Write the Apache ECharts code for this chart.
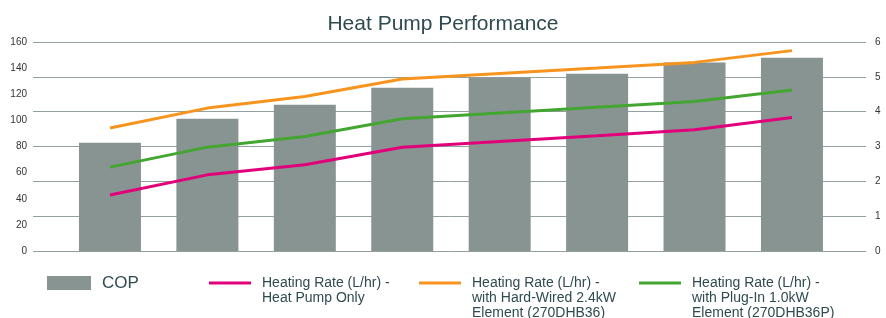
<!DOCTYPE html>
<html><head><meta charset="utf-8">
<script src="https://cdn.jsdelivr.net/npm/echarts@6/dist/echarts.min.js"></script>
<style>html,body{margin:0;padding:0;background:#fff}#c{width:886px;height:318px}</style>
</head><body><div id="c"></div>
<script>
// Data
const categories = ['1','2','3','4','5','6','7','8'];
const cop = [3.11, 3.80, 4.20, 4.69, 4.98, 5.09, 5.41, 5.55];
const heatPumpOnly = [42.9, 58.3, 66.0, 79.4, 83.9, 88.3, 92.8, 102.2];
const hardWired = [94.1, 109.4, 118.3, 131.7, 135.9, 140.1, 144.4, 153.4];
const plugIn = [64.2, 79.5, 87.7, 101.2, 105.7, 110.1, 114.5, 123.2];
const leftTicks = [0, 20, 40, 60, 80, 100, 120, 140, 160];
const rightTicks = [0, 1, 2, 3, 4, 5, 6];
const names = {
  cop: 'COP',
  hp: 'Heating Rate (L/hr) -\nHeat Pump Only',
  hw: 'Heating Rate (L/hr) -\nwith Hard-Wired 2.4kW\nElement (270DHB36)',
  pi: 'Heating Rate (L/hr) -\nwith Plug-In 1.0kW\nElement (270DHB36P)'
};

const toXY = arr => arr.map((v, i) => [categories.indexOf(categories[i]), v]);
const font = 'Liberation Sans, Arial, Helvetica, sans-serif';
const textCol = '#2f4b50';
const LH = 15;

function legendFor(name, left, iconCenterY, isBar) {
  const n = name.split('\n').length;
  const blockH = isBar ? 17 : (2 * n - 1) * LH;
  return {
    data: [name],
    left: left,
    top: iconCenterY - blockH / 2,
    padding: 0,
    itemWidth: isBar ? 44 : 42,
    itemHeight: isBar ? 14 : 3,
    icon: 'rect',
    selectedMode: false,
    formatter: nm => isBar ? nm : '\n'.repeat(n - 1) + nm,
    textStyle: {
      fontFamily: font,
      fontSize: isBar ? 17 : 14,
      lineHeight: isBar ? 17 : LH,
      color: textCol,
      padding: [0, 0, 0, 6]
    }
  };
}

const chart = echarts.init(document.getElementById('c'), null, {renderer: 'canvas'});
chart.setOption({
  animation: false,
  backgroundColor: '#fff',
  title: {
    text: 'Heat Pump Performance',
    left: 'center',
    top: 9,
    textStyle: {fontFamily: font, fontSize: 21, fontWeight: 'normal', color: textCol}
  },
  legend: [
    legendFor(names.cop, 47, 283, true),
    legendFor(names.hp, 209, 283, false),
    legendFor(names.hw, 419, 283, false),
    legendFor(names.pi, 639, 283, false)
  ],
  grid: {left: 33, right: 20, top: 42, bottom: 67, containLabel: false},
  xAxis: {
    type: 'value', min: -0.79, max: 7.76, show: false
  },
  yAxis: [
    {
      type: 'value', min: leftTicks[0], max: leftTicks[leftTicks.length - 1], interval: 20,
      position: 'left',
      axisLine: {show: false}, axisTick: {show: false}, splitLine: {show: false},
      axisLabel: {fontFamily: font, fontSize: 10, color: '#333', margin: 6}
    },
    {
      type: 'value', min: rightTicks[0], max: rightTicks[rightTicks.length - 1], interval: 1,
      position: 'right',
      axisLine: {show: false}, axisTick: {show: false},
      splitLine: {show: true, lineStyle: {color: '#93a19e', width: 1}},
      axisLabel: {fontFamily: font, fontSize: 10, color: '#333', margin: 9}
    }
  ],
  series: [
    {name: names.cop, type: 'bar', yAxisIndex: 1, barWidth: 62, data: toXY(cop),
     itemStyle: {color: '#889492'}},
    {name: names.hp, type: 'line', yAxisIndex: 0, data: toXY(heatPumpOnly), symbol: 'none',
     lineStyle: {color: '#e2007a', width: 3}, itemStyle: {color: '#e2007a'}},
    {name: names.hw, type: 'line', yAxisIndex: 0, data: toXY(hardWired), symbol: 'none',
     lineStyle: {color: '#f7941d', width: 3}, itemStyle: {color: '#f7941d'}},
    {name: names.pi, type: 'line', yAxisIndex: 0, data: toXY(plugIn), symbol: 'none',
     lineStyle: {color: '#43a631', width: 3}, itemStyle: {color: '#43a631'}}
  ]
});
</script></body></html>
